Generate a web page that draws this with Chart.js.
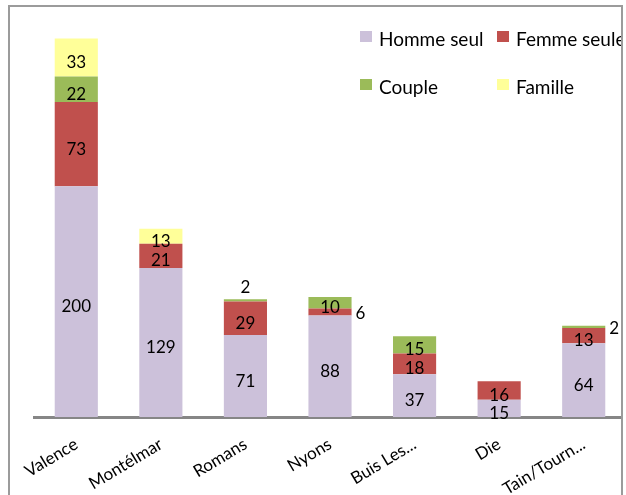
<!DOCTYPE html>
<html>
<head>
<meta charset="utf-8">
<script src="https://cdn.jsdelivr.net/npm/chart.js@4"></script>
<style>
  html, body { margin: 0; padding: 0; background: #fff; }
  #wrap { position: relative; width: 626px; height: 495px; }
</style>
</head>
<body>
<div id="wrap"><canvas id="chart" width="626" height="495"></canvas></div>
<script>
const categories = ["Valence", "Montélmar", "Romans", "Nyons", "Buis Les...", "Die", "Tain/Tourn..."];
const hommeSeul = [200, 129, 71, 88, 37, 15, 64];
const femmeSeule = [73, 21, 29, 6, 18, 16, 13];
const couple = [22, 0, 2, 10, 15, 0, 2];
const famille = [33, 13, 0, 0, 0, 0, 0];

// labels too small to sit inside their segment ("category-dataset")
const outsideLabels = { "2-2": "above", "3-1": "right", "6-2": "right" };

const FONT = "Lato";

const segmentLabels = {
	id: "segmentLabels",
	afterDatasetsDraw(chart) {
		const ctx = chart.ctx;
		ctx.save();
		ctx.font = "17px " + FONT;
		ctx.fillStyle = "#000";
		ctx.textBaseline = "alphabetic";
		chart.data.datasets.forEach((ds, di) => {
			const meta = chart.getDatasetMeta(di);
			meta.data.forEach((bar, ci) => {
				const v = ds.data[ci];
				if (!v) return;
				const mid = (bar.y + bar.base) / 2;
				const side = outsideLabels[ci + "-" + di];
				let x = bar.x;
				let y = mid + 4.5;
				ctx.textAlign = "center";
				if (side === "above") {
					y = bar.y - 12;
				} else if (side === "right") {
					x = bar.x + bar.width / 2 + 4;
					y = mid + 1;
					ctx.textAlign = "left";
				}
				ctx.fillText(String(v), x, y + 6);
			});
		});
		ctx.restore();
	},
};

const gridLegend = {
	id: "gridLegend",
	afterDraw(chart) {
		const ctx = chart.ctx;
		const cols = [360, 497];
		const rows = [31, 79];
		ctx.save();
		ctx.font = "19px " + FONT;
		ctx.textAlign = "left";
		ctx.textBaseline = "alphabetic";
		chart.data.datasets.forEach((ds, i) => {
			const x = cols[i % 2];
			const y = rows[Math.floor(i / 2)];
			ctx.fillStyle = ds.backgroundColor;
			ctx.fillRect(x, y, 12, 11);
			ctx.fillStyle = "#000";
			ctx.fillText(ds.label, x + 19, y + 15);
		});
		// frame
		ctx.fillStyle = "#fff";
		ctx.fillRect(623, 0, 3, 495);
		ctx.strokeStyle = "#9b9b9b";
		ctx.lineWidth = 2;
		ctx.beginPath();
		ctx.moveTo(9, 495);
		ctx.lineTo(9, 6);
		ctx.lineTo(622, 6);
		ctx.lineTo(622, 495);
		ctx.stroke();
		ctx.restore();
	},
};

const draw = () => {
	new Chart(document.getElementById("chart"), {
		type: "bar",
		data: {
			labels: categories,
			datasets: [
				{ label: "Homme seul", data: hommeSeul, backgroundColor: "#CCC1DA" },
				{ label: "Femme seule", data: femmeSeule, backgroundColor: "#C0504D" },
				{ label: "Couple", data: couple, backgroundColor: "#9BBB59" },
				{ label: "Famille", data: famille, backgroundColor: "#FFFF99" },
			],
		},
		options: {
			responsive: false,
			animation: false,
			devicePixelRatio: 1,
			barPercentage: 0.51,
			categoryPercentage: 1,
			layout: { padding: { left: 34, right: 0, top: 13, bottom: 0 } },
			plugins: {
				legend: { display: false },
				tooltip: { enabled: false },
			},
			scales: {
				x: {
					stacked: true,
					grid: { display: false, drawTicks: false },
					border: { color: "#868686", width: 3 },
					ticks: {
						color: "#000",
						font: { family: FONT, size: 17 },
						minRotation: 31,
						maxRotation: 31,
						autoSkip: false,
						padding: 17,
					},
					afterFit: (scale) => {
						scale.height = 78;
					},
				},
				y: {
					stacked: true,
					display: false,
					min: 0,
					max: 350,
				},
			},
		},
		plugins: [segmentLabels, gridLegend],
	});
};

document.fonts.load("17px " + FONT).then(draw, draw);
</script>
</body>
</html>
